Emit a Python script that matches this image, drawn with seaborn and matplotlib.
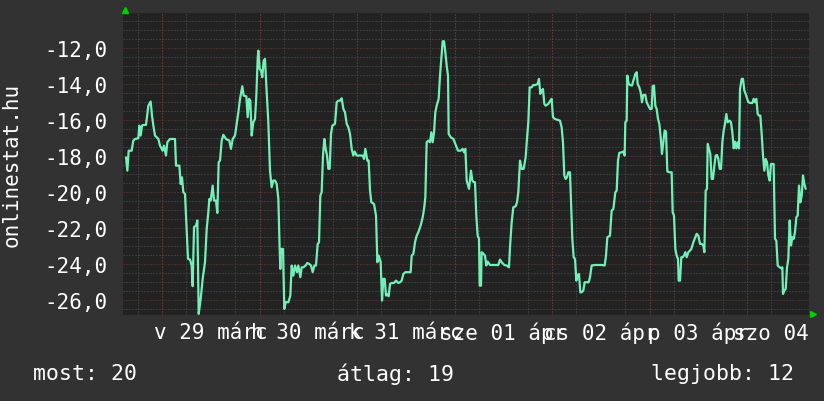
import matplotlib
matplotlib.use('Agg')
import matplotlib.pyplot as plt
from matplotlib.lines import Line2D
from matplotlib.ticker import MultipleLocator
from matplotlib.transforms import Bbox, TransformedBbox
import pandas as pd
import seaborn as sns

# hours since 29 March 00:00, temperature readings
hours = [
    -8.86, -8.53, -8.20, -7.47, -7.06, -6.65, -5.83, -5.58, -5.25, -4.92, -4.60, -3.94,
    -3.36, -2.79, -2.46, -2.13, -1.72, -0.90, -0.49, 0.16, 0.49, 0.98, 1.31, 1.97, 3.20,
    3.45, 4.27, 4.59, 4.92, 5.25, 5.66, 6.07, 6.40, 6.89, 7.30, 7.55, 7.88, 8.37, 8.70,
    9.03, 9.52, 10.01, 10.58, 11.00, 11.40, 11.65, 11.98, 12.47, 12.80, 13.29, 13.62,
    13.95, 14.28, 14.69, 15.10, 15.75, 16.57, 16.98, 17.40,
    17.97, 18.38, 18.79, 19.20, 19.77, 20.10, 20.76, 21.09, 21.42, 21.74, 22.07, 22.48,
    22.89, 23.22, 23.55, 23.71, 24.04, 24.37, 24.69, 25.02, 25.35, 25.68, 26.17, 26.58,
    26.99, 27.40, 27.82, 28.23, 28.64, 28.96, 29.13, 29.29, 29.78, 30.11, 30.44, 31.10,
    31.59, 31.92, 32.33, 32.74, 33.23, 33.56, 34.05, 34.38, 34.79, 35.36, 35.77, 36.19,
    36.68, 37.09, 37.50, 37.91, 38.32, 38.65, 38.97, 39.30, 39.63, 39.96, 40.29, 40.62,
    40.94, 41.27, 41.60, 41.93, 42.58, 43.00, 43.41, 43.82, 44.23, 44.64, 45.05, 45.46,
    45.87,
    46.28, 46.69, 47.10, 47.43, 47.92, 48.74, 49.40, 49.73, 50.05, 50.55, 50.87, 51.20,
    51.53, 52.19, 52.68, 53.01, 53.34, 53.83, 54.16, 54.49, 54.81, 55.14, 55.47, 55.80,
    56.13, 56.54, 57.11, 57.60, 58.18, 58.59, 59.00, 59.41, 59.90, 60.72, 61.21, 61.46,
    61.87, 62.28, 62.69, 63.10, 63.67, 64.17, 64.50, 64.82, 65.15, 65.56, 65.97, 66.30,
    66.63, 66.96, 67.28, 67.61, 68.10, 68.43, 68.76, 69.09, 69.42, 69.75, 70.07, 70.40,
    70.57, 71.06, 71.72, 72.37, 72.86, 73.52, 74.01, 74.34, 74.67,
    75.00, 75.57, 76.06, 76.39, 76.72, 77.04, 77.37, 77.70, 78.03, 78.19, 78.52, 78.68,
    79.17, 79.50, 79.83, 80.16, 80.73, 81.55, 82.79, 83.20, 83.61, 84.26, 84.84, 85.41,
    85.66, 86.07, 86.48, 87.05, 87.38, 87.71, 88.12, 88.53, 89.02, 89.51, 89.84, 90.17,
    90.50, 90.99, 91.40, 91.97, 92.47, 92.79, 93.12, 93.45, 93.78, 94.11, 94.44, 95.09,
    95.58, 95.91, 96.24, 96.73, 97.39, 97.96, 98.37, 98.70, 99.03, 99.36, 99.69, 100.02,
    100.43, 100.67, 101.00, 101.33, 101.66, 101.99, 102.31, 102.64, 102.97,
    103.30, 103.71, 104.04, 104.53, 105.02, 105.35, 105.76, 106.58, 107.40, 108.22,
    108.96, 109.29, 109.62, 110.27, 110.68, 111.10, 111.59, 111.92, 112.24, 112.57,
    113.15, 113.56, 113.88, 114.05, 114.38, 114.54, 114.87, 115.20, 115.69, 116.02,
    116.51, 116.84, 117.08, 117.49, 117.82, 118.15, 118.48, 118.97, 119.30, 119.71,
    120.12, 120.53, 120.78, 121.10, 121.43, 121.76, 122.09, 122.42, 122.75, 123.07,
    123.40, 123.73, 124.06, 124.39, 124.88, 125.45, 125.70, 126.03, 126.36, 126.68,
    127.01, 127.18, 127.51, 127.83, 128.16, 128.49, 128.82, 129.15, 129.56, 129.97,
    130.30, 130.79, 131.12,
    131.61, 132.02, 132.43, 132.84, 133.25, 133.50, 133.83, 134.15, 134.32, 134.65,
    134.97, 135.30, 135.63, 135.96, 136.29, 136.62, 136.94, 137.27, 137.60, 137.93,
    138.26, 138.58, 138.91, 139.24, 139.73, 140.06, 140.39, 140.72, 141.05, 141.37,
    141.70, 142.03, 142.28, 142.69, 143.02, 143.34, 143.67, 144.00, 144.33, 144.82,
    145.31, 145.64, 145.97, 146.30, 146.63, 146.95, 147.28, 147.61, 147.94, 148.27,
    148.59, 148.92, 149.25, 149.58, 149.91, 150.24, 150.56, 150.89, 151.22, 151.55,
    152.04, 152.37, 152.70, 152.86, 153.19, 153.52, 153.85, 154.17, 154.50, 154.83,
    155.16, 155.49, 155.81, 156.14, 156.47, 156.80, 157.13, 157.46, 157.78, 158.11,
    158.44,
]
temps = [
    -18.06, -18.80, -17.69, -17.69, -17.13, -17.04, -17.00, -16.30, -16.85, -16.30, -16.26, -16.26,
    -15.19, -14.96, -15.74, -16.30, -16.85, -17.04, -17.41, -17.69, -17.41, -17.96, -17.22, -17.04, -17.04,
    -18.52, -18.52, -19.54, -19.17, -20.00, -20.09, -22.04, -23.70, -23.74, -24.07, -25.22, -21.94, -21.85, -21.57,
    -26.76, -25.93, -24.81, -23.89, -22.04, -21.11, -20.37, -20.46, -19.63, -20.46, -20.46, -21.15,
    -18.33, -18.24, -17.13, -16.81, -17.04, -17.13, -17.59, -17.04,
    -16.85, -16.20, -15.56, -14.81, -14.11, -14.63, -14.67, -15.83, -14.81, -14.91, -16.85, -16.11,
    -15.93, -14.63, -12.59, -12.13, -13.15, -13.24, -13.61, -12.69, -12.59, -14.07, -16.11, -18.80,
    -19.72, -19.35, -19.35, -19.54, -20.37, -23.15, -24.26, -23.15, -23.15, -26.48, -26.11, -26.11,
    -25.74, -24.07, -24.63, -24.07, -24.44, -24.07, -24.72, -24.17, -24.17, -24.07, -23.93, -23.98,
    -24.07, -24.44, -24.07, -24.07, -22.87, -22.78, -20.19, -20.00, -17.96, -17.04, -17.59, -17.96,
    -18.70, -18.70, -16.76, -16.30, -16.20, -15.00, -14.91, -14.91, -14.78, -15.37, -15.56, -16.20,
    -16.39,
    -16.76, -17.59, -17.96, -17.74, -17.96, -17.96, -17.96, -18.15, -17.59, -18.24, -18.24, -19.91,
    -20.56, -20.65, -21.30, -23.89, -23.52, -23.89, -26.02, -24.81, -24.81, -25.74, -25.65, -25.78,
    -25.09, -25.04, -25.04, -24.91, -25.04, -25.00, -24.91, -24.54, -24.44, -24.44, -24.44, -23.52,
    -23.43, -22.78, -22.41, -22.22, -21.85, -21.39, -20.93, -20.28, -17.22, -17.13, -17.22, -16.67,
    -17.22, -16.67, -15.56, -15.19, -14.81, -13.52, -12.59, -11.61, -11.61, -12.22, -12.96, -13.52,
    -16.76, -16.94, -17.04, -17.41, -17.69, -17.69, -17.59, -17.78, -17.59,
    -19.35, -19.81, -18.80, -19.35, -19.44, -19.44, -21.30, -22.41, -22.59, -25.19, -25.19, -23.33,
    -23.43, -23.52, -24.07, -23.85, -24.04, -24.04, -24.04, -23.74, -23.89, -24.04, -24.07, -24.17,
    -23.06, -21.67, -20.83, -20.78, -20.56, -20.00, -18.24, -18.70, -18.70, -18.06, -17.04, -16.11,
    -14.17, -14.17, -14.04, -14.04, -13.98, -13.70, -14.54, -14.35, -14.26, -15.09, -15.19, -15.09,
    -14.91, -14.81, -15.83, -15.93, -15.98, -16.02, -16.39, -17.22, -19.07, -19.26, -19.17, -18.89,
    -18.89, -20.46, -22.59, -23.61, -23.70, -24.91, -24.63, -24.54, -25.56,
    -25.56, -25.46, -25.00, -25.00, -25.00, -24.72, -24.07, -24.04, -24.04, -24.04,
    -24.07, -23.52, -22.50, -22.41, -21.02, -20.93, -20.00, -19.91, -18.24, -17.81,
    -17.78, -17.74, -17.96, -16.11, -16.02, -13.52, -13.98, -14.04, -14.07, -13.80,
    -13.43, -13.33, -13.98, -14.17, -14.44, -15.00, -14.59, -14.59, -15.00, -15.19,
    -15.37, -15.37, -14.11, -14.07, -15.19, -15.37, -15.93, -16.20, -16.94, -17.87,
    -17.22, -16.57, -16.63, -18.85, -18.89, -18.89, -21.11, -21.30, -23.15, -23.52,
    -23.70, -24.91, -24.91, -23.61, -23.61, -23.52, -23.33, -23.61, -23.33, -23.24,
    -23.15, -22.78, -22.59,
    -22.31, -22.41, -22.87, -22.87, -22.96, -23.33, -19.91, -19.81, -17.31, -17.59,
    -17.87, -19.26, -19.26, -18.52, -17.96, -17.93, -18.15, -18.70, -18.70, -17.22,
    -16.57, -16.20, -15.65, -16.11, -16.02, -16.11, -16.67, -17.56, -17.19, -17.56,
    -17.22, -17.56, -14.26, -13.70, -13.70, -14.35, -14.54, -14.78, -15.00, -15.04,
    -15.04, -14.81, -15.00, -14.81, -15.65, -15.74, -15.74, -16.76, -17.96, -18.80,
    -18.15, -18.33, -19.07, -19.35, -18.43, -18.43, -18.43, -22.59, -22.69, -24.07,
    -24.17, -24.22, -24.17, -25.65, -25.46, -25.37, -24.17, -23.70, -21.57, -22.96,
    -22.50, -22.59, -22.22, -21.39, -21.30, -19.63, -20.56, -20.19, -19.07, -19.54,
    -19.81,
]

day_labels = ["v 29 márc", "h 30 márc", "k 31 márc", "sze 01 ápr",
              "cs 02 ápr", "p 03 ápr", "szo 04 ápr"]
label_hours = [12, 36, 60, 84, 108, 132, 156]
midnight_hours = [0, 24, 48, 72, 96, 120, 144]
y_ticks = [-26, -24, -22, -20, -18, -16, -14, -12]
legend_texts = ["most: 20", "átlag: 19", "legjobb: 12"]

sns.set_theme(style='dark')
plt.rcParams['font.family'] = ['DejaVu Sans Mono']
plt.rcParams['ytick.major.pad'] = 11
plt.rcParams['xtick.major.pad'] = 5

bg = '#323232'
plot_bg = '#222222'
grid_gray = '#555555'
grid_red = '#773535'
line_col = '#72f0b8'
txt = '#ffffff'
fs = 15

fig = plt.figure(figsize=(8.24, 4.02), dpi=100, facecolor=bg)
ax = fig.add_axes([123 / 824, 1 - 316 / 402, 686 / 824, 302 / 402])
ax.set_facecolor(plot_bg)

df = pd.DataFrame({'h': hours, 't': temps})
sns.lineplot(data=df, x='h', y='t', ax=ax, color=line_col, lw=1.6,
             estimator=None, sort=False, zorder=5)

ax.set_xlim(-9.6, 159.26)
ax.set_ylim(-26.82, -10.04)

ax.set_xticks(label_hours, day_labels)
ax.set_yticks(y_ticks, [f"{v:.1f}".replace('.', ',') for v in y_ticks])
ax.xaxis.set_minor_locator(MultipleLocator(6))
ax.yaxis.set_minor_locator(MultipleLocator(0.5))

dots = (0, (1, 2))
ax.grid(False)
ax.grid(which='minor', color=grid_gray, lw=0.72, ls=dots, zorder=1)
ax.grid(which='major', axis='y', color=grid_red, lw=0.72, ls=dots, zorder=2)
for m in midnight_hours:
    ax.axvline(m, color=grid_red, lw=0.72, ls=dots, zorder=2)

ax.tick_params(axis='both', which='both', length=0, colors=txt, labelsize=fs)
ax.tick_params(axis='y', which='major', pad=11)
ax.tick_params(axis='x', which='major', pad=5)
for s in ax.spines.values():
    s.set_visible(False)
ax.set_xlabel('')
ax.set_ylabel('')

# rrdtool clips the last day label at the image edge
clip = TransformedBbox(Bbox([[0, 0], [817 / 824, 1]]), fig.transFigure)
for lbl in ax.get_xticklabels():
    lbl.set_clip_box(clip)
    lbl.set_clip_on(True)

fig.text(12 / 824, 1 - 165 / 402, 'onlinestat.hu', rotation=90, color=txt,
         fontsize=fs, ha='center', va='center')

ly = 1 - 374 / 402
fig.text(33 / 824, ly, legend_texts[0], color=txt, fontsize=15.5, ha='left', va='center')
fig.text(337 / 824, ly, legend_texts[1], color=txt, fontsize=15.5, ha='left', va='center')
fig.text(794 / 824, ly, legend_texts[2], color=txt, fontsize=15.5, ha='right', va='center')

# small green arrow heads at the axis ends
fig.add_artist(Line2D([125 / 824], [1 - 11 / 402], marker='^', color='#00cc00',
                      markersize=5, transform=fig.transFigure))
fig.add_artist(Line2D([813 / 824], [1 - 314.5 / 402], marker='>', color='#00cc00',
                      markersize=5, transform=fig.transFigure))

fig.savefig('out.png', dpi=100, facecolor=bg)
